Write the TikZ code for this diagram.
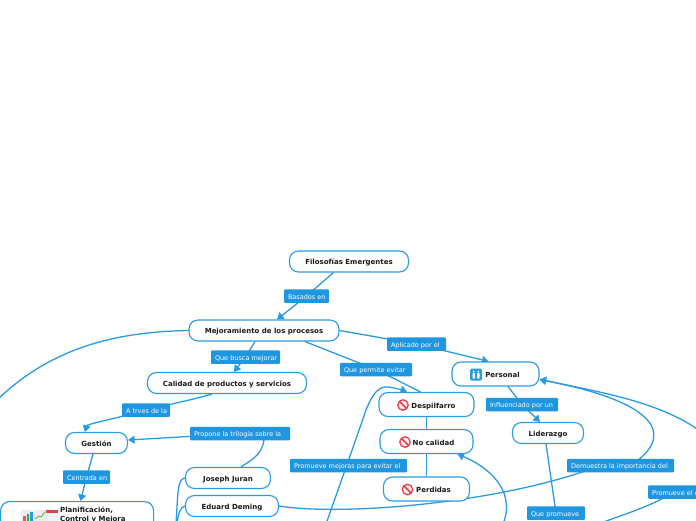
\documentclass[tikz,border=0pt]{standalone}
\usepackage{fontspec}
\setmainfont{DejaVu Sans}
\usetikzlibrary{arrows.meta,backgrounds}
\definecolor{mblue}{HTML}{2A9BE2}
\definecolor{lblue}{HTML}{1E96E0}
\definecolor{iconred}{HTML}{E5404A}
\newcommand{\lbl}[2]{\makebox[#1pt][l]{#2}}
\tikzset{x=1pt,y=-1pt,
 topic/.style={draw=mblue,line width=1.15pt,fill=white,rounded corners=9pt,minimum height=21pt,inner sep=0pt,font=\fontsize{7}{9}\selectfont\bfseries,align=left,text=black!90,text height=6.2pt,text depth=0pt},
 lab/.style={fill=lblue,rounded corners=1pt,minimum height=13.5pt,inner ysep=0pt,inner xsep=4pt,font=\fontsize{6.5}{7.5}\selectfont,text=white,text height=6pt,text depth=0pt},
 conn/.style={draw=mblue,line width=1.3pt},
 arr/.style={conn,-{Triangle[length=6.5pt,width=8pt]}},
 ban/.style={circle,draw=iconred,line width=1.3pt,fill=red!6,minimum size=10.5pt,inner sep=0pt,path picture={\draw[iconred,line width=1.5pt] (path picture bounding box.north west) -- (path picture bounding box.south east);}},
 tile/.style={fill=mblue,rounded corners=1.5pt,minimum size=12pt,inner sep=0pt}}
\begin{document}
\begin{tikzpicture}
\useasboundingbox (0,0) rectangle (696,520);
% topics
\node[topic,minimum width=119pt] (fil) at (349,261.5) {Filosofías Emergentes};
\node[topic,minimum width=150pt] (mej) at (264,330.5) {Mejoramiento de los procesos};
\node[topic,minimum width=159pt] (cal) at (227,383) {Calidad de productos y servicios};
\node[topic,minimum width=62pt] (ges) at (96.5,443) {Gestión};
\node[topic,minimum width=85pt] (jur) at (228,478) {Joseph Juran};
\node[topic,minimum width=93pt] (dem) at (232,506) {Eduard Deming};
\node[topic,minimum width=153pt,minimum height=40pt,anchor=north west] (pla) at (0,501) {};
\node[font=\fontsize{7}{9}\selectfont\bfseries,align=left,anchor=north west,inner sep=0pt,text=black!90] (plat) at (60,507) {Planificación,\\Control y Mejora};
\node[topic,minimum width=95pt,minimum height=24pt,text height=7pt] (des) at (426.5,404.5) {\hspace{14pt}Despilfarro};
\node[topic,minimum width=93pt,minimum height=24pt,text height=7pt] (noc) at (426.5,441.5) {\hspace{14pt}No calidad};
\node[topic,minimum width=86pt,minimum height=24pt,text height=7pt] (per) at (426.5,489) {\hspace{14pt}Perdidas};
\node[topic,minimum width=87pt,minimum height=24pt] (pers) at (495.5,374) {\hspace{14pt}Personal};
\node[topic,minimum width=71pt] (lid) at (548,433) {Liderazgo};
% icons
\node[ban] (ic1) at (403,405) {};
\node[ban] (ic2) at (405,442) {};
\node[ban] (ic3) at (407.5,489.5) {};
\node[tile] (ic4) at (476,374.5) {};
\foreach \xx in {-2.3,2.3}{
  \fill[white] ([xshift=\xx pt,yshift=3pt]ic4.center) circle (1pt);
  \fill[white,rounded corners=0.8pt] ([xshift=\xx pt-1.2pt,yshift=1.8pt]ic4.center) rectangle ([xshift=\xx pt+1.2pt,yshift=-4.2pt]ic4.center);
}
% planning icons
\node[fill=black!7,minimum width=12pt,minimum height=14pt,anchor=north west,inner sep=0pt] (ch1) at (21,510) {};
\fill[red!70] (23,516) rectangle (25.5,524);
\fill[green!60!black!80] (26.5,514) rectangle (29,524);
\fill[mblue] (30,512) rectangle (32.5,524);
\node[fill=black!7,minimum width=12pt,minimum height=14pt,anchor=north west,inner sep=0pt] (ch2) at (34,510) {};
\draw[green!60!black!70,line width=0.8pt] (35,519) -- (39,516) -- (41,517) -- (45,512);
\node[fill=black!5,minimum width=12pt,minimum height=14pt,anchor=north west,inner sep=0pt] (ch3) at (46,510) {};
\fill[iconred] (46,510) rectangle (58,513);
% labels
\node[lab] (bas) at (306.5,296) {\lbl{37}{Basados en}};
\node[lab] (bus) at (245.5,357) {\lbl{61}{Que busca mejorar}};
\node[lab] (evi) at (376,369.5) {\lbl{64}{Que permite evitar}};
\node[lab] (apl) at (416.5,344) {\lbl{51}{Aplicado por el}};
\node[lab] (tre) at (146,410) {\lbl{40}{A trves de la}};
\node[lab] (pro) at (240,433.5) {\lbl{92}{Propone la trilogía sobre la}};
\node[lab] (cen) at (86.5,477) {\lbl{39}{Centrada en}};
\node[lab] (inf) at (522,404.5) {\lbl{64}{Influenciado por un}};
\node[lab] (dmu) at (620.5,465.5) {\lbl{99}{Demuestra la importancia del}};
\node[lab] (mjr) at (348.5,465.5) {\lbl{109}{Promueve mejoras para evitar el}};
\node[lab] (qpr) at (556,513) {\lbl{50}{Que promueve}};
\node[lab,anchor=west] (pel) at (648,492) {\lbl{60}{Promueve el c}};
% free ends
\coordinate (e1) at (-10,407);
\coordinate (e2) at (700,431);
\coordinate (e3) at (326,524);
\coordinate (e4) at (503,524);
\coordinate (e5) at (176,524);
\coordinate (e6) at (177,524);
\coordinate (e7) at (598,524);
\begin{scope}[on background layer]
\draw[conn] ([xshift=-15.5pt]fil.south) -- (bas.center);
\draw[arr] (bas.center) -- ([xshift=13pt]mej.north);
\draw[conn] ([xshift=-9pt]mej.south) -- (bus.center);
\draw[arr] (bus.center) -- ([xshift=7pt]cal.north);
\draw[conn] ([xshift=-15pt]cal.south) .. controls (195,399) and (180,402) .. (tre.center);
\draw[arr] (tre.center) .. controls (110,420) and (87,424) .. ([xshift=-11.5pt]ges.north);
\draw[arr] (pro.center) -- ([yshift=3pt]ges.east);
\draw[conn] ([xshift=24pt]pro.center) .. controls (265,452) and (255,458) .. ([xshift=13pt]jur.north);
\draw[conn] ([xshift=-3.5pt]ges.south) -- (cen.center);
\draw[arr] (cen.center) -- ([xshift=3.5pt]pla.north);
\draw[conn] (mej.west) .. controls (110,332) and (45,350) .. (e1);
\draw[conn] (mej.east) -- (apl.center);
\draw[arr] (apl.center) -- ([xshift=-7pt]pers.north);
\draw[conn] ([xshift=41pt]mej.south) -- (evi.center);
\draw[conn] (evi.center) -- ([xshift=-6pt]des.north);
\draw[conn] (des.south) -- (noc.north);
\draw[conn] (noc.south) -- (per.north);
\draw[conn] ([xshift=12.5pt]pers.south) -- (inf.center);
\draw[arr] (inf.center) -- ([xshift=-8pt]lid.north);
\draw[conn] ([xshift=-2pt]lid.south) -- (qpr.center);
\draw[conn] (dem.east) .. controls (340,516) and (500,504) .. ([xshift=-20pt]dmu.center);
\draw[arr] ([xshift=10pt]dmu.center) .. controls (670,440) and (670,405) .. ([yshift=-5.5pt]pers.east);
\draw[arr] (e2) .. controls (660,402) and (600,392) .. ([yshift=-5.5pt]pers.east);
\draw[conn] ([xshift=25pt]pel.west) .. controls (655,505) and (625,514) .. (e7);
\draw[arr] (e3) .. controls (338,490) and (354,445) .. (366,410) .. controls (372,395) and (378,386) .. (388,387) .. controls (396,388) and (402,390) .. ([xshift=-19.5pt]des.north);
\draw[arr] (e4) .. controls (515,495) and (495,470) .. ([xshift=31pt]noc.south);
\draw[conn] (e5) .. controls (178,495) and (177,479) .. (jur.west);
\draw[conn] (e6) .. controls (178,515) and (180,507) .. (dem.west);
\end{scope}
\end{tikzpicture}
\end{document}
